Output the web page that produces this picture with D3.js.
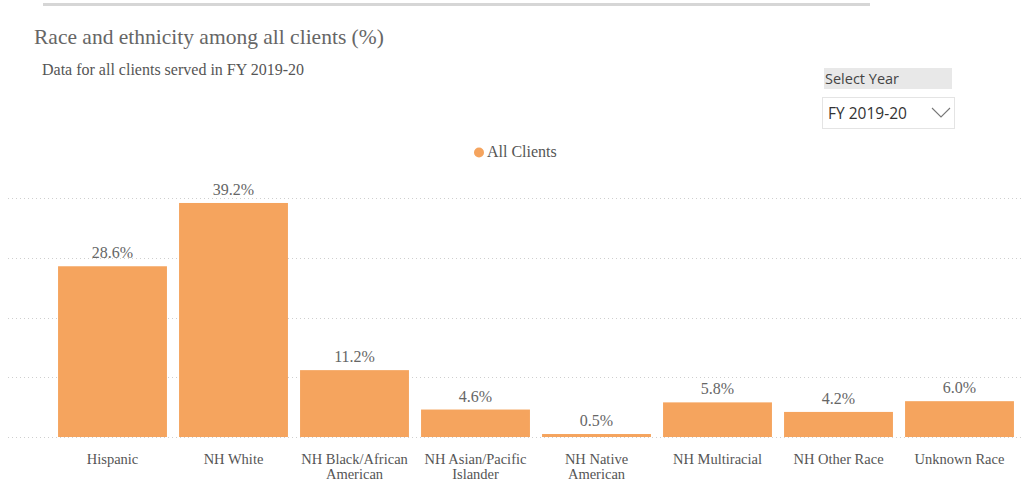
<!DOCTYPE html>
<html>
<head>
<meta charset="utf-8">
<script src="https://cdn.jsdelivr.net/npm/d3@7/dist/d3.min.js"></script>
<style>
  html, body { margin: 0; padding: 0; background: #fff; }
  svg { display: block; }
  .serif { font-family: "Liberation Serif", "Times New Roman", Tinos, "DejaVu Serif", serif; }
  .sans { font-family: "Open Sans", "Noto Sans", sans-serif; }
</style>
</head>
<body>
<svg id="chart" width="1021" height="483"></svg>
<script>
// Race/ethnicity shares, FY 2019-20
const categories = [
  ["Hispanic"],
  ["NH White"],
  ["NH Black/African", "American"],
  ["NH Asian/Pacific", "Islander"],
  ["NH Native", "American"],
  ["NH Multiracial"],
  ["NH Other Race"],
  ["Unknown Race"]
];
const allClients = [28.6, 39.2, 11.2, 4.6, 0.5, 5.8, 4.2, 6.0];
const gridTicks = [0, 10, 20, 30, 40];
const seriesName = "All Clients";
const yearOptions = ["FY 2019-20"];

const svg = d3.select("#chart");
const barColor = "#F5A45E";

// top divider
svg.append("rect").attr("x", 43).attr("y", 3).attr("width", 827).attr("height", 3).attr("fill", "#d6d6d6");

// headings
svg.append("text").attr("class", "serif").attr("x", 34).attr("y", 44)
  .attr("font-size", 21.5).attr("fill", "#666")
  .text("Race and ethnicity among all clients (%)");
svg.append("text").attr("class", "serif").attr("x", 42).attr("y", 75)
  .attr("font-size", 16).attr("fill", "#555")
  .text("Data for all clients served in FY 2019-20");

// year slicer
svg.append("rect").attr("x", 824).attr("y", 68).attr("width", 128).attr("height", 21).attr("fill", "#e8e8e8");
svg.append("text").attr("class", "sans").attr("x", 825).attr("y", 84)
  .attr("font-size", 14.5).attr("fill", "#444")
  .text("Select Year");
svg.append("rect").attr("x", 822.5).attr("y", 97.5).attr("width", 132).attr("height", 31)
  .attr("fill", "#fff").attr("stroke", "#e4e4e4");
svg.append("text").attr("class", "sans").attr("x", 828).attr("y", 119)
  .attr("font-size", 15.5).attr("fill", "#333")
  .text(yearOptions[0]);
svg.append("path").attr("d", "M932,108 L941,117 L950,108")
  .attr("fill", "none").attr("stroke", "#777").attr("stroke-width", 1.1);

// legend
svg.append("circle").attr("cx", 479).attr("cy", 152.5).attr("r", 5).attr("fill", barColor);
svg.append("text").attr("class", "serif").attr("x", 487).attr("y", 157)
  .attr("font-size", 16).attr("fill", "#555")
  .text(seriesName);

// scales
const x = d3.scaleBand().domain(d3.range(categories.length))
  .range([52, 1020]).paddingInner(0.1).paddingOuter(0.05);
const y = d3.scaleLinear().domain([0, 40]).range([437, 198.2]);

// gridlines
svg.append("g").selectAll("line").data(gridTicks).join("line")
  .attr("x1", 8).attr("x2", 1021)
  .attr("y1", d => Math.round(y(d)) + 0.5).attr("y2", d => Math.round(y(d)) + 0.5)
  .attr("stroke", "#cfcfcf").attr("stroke-width", 1).attr("stroke-dasharray", "1,3");

// bars
svg.append("g").selectAll("rect").data(allClients).join("rect")
  .attr("x", (d, i) => x(i)).attr("width", x.bandwidth())
  .attr("y", d => y(d)).attr("height", d => y(0) - y(d))
  .attr("fill", barColor);

// value labels
svg.append("g").selectAll("text").data(allClients).join("text")
  .attr("class", "serif")
  .attr("x", (d, i) => x(i) + x.bandwidth() / 2)
  .attr("y", d => y(d) - 8)
  .attr("text-anchor", "middle")
  .attr("font-size", 16).attr("fill", "#666")
  .text(d => d.toFixed(1) + "%");

// category labels
const cat = svg.append("g").selectAll("text").data(categories).join("text")
  .attr("class", "serif")
  .attr("text-anchor", "middle")
  .attr("font-size", 14.5).attr("fill", "#555")
  .attr("transform", (d, i) => `translate(${x(i) + x.bandwidth() / 2},464)`);
cat.selectAll("tspan").data(d => d).join("tspan")
  .attr("x", 0).attr("dy", (d, i) => i === 0 ? 0 : 15)
  .text(d => d);
</script>
</body>
</html>
